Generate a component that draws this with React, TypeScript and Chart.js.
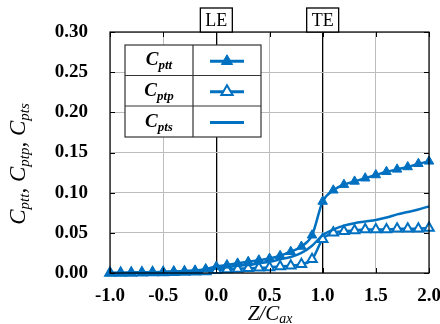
import React, { useEffect, useRef } from 'react';
import { Chart, registerables } from 'chart.js';

Chart.register(...registerables);

const xValues = [-1.0, -0.9, -0.8, -0.7, -0.6, -0.5, -0.4, -0.3, -0.2, -0.1, 0.0, 0.1, 0.2, 0.3, 0.4, 0.5, 0.6, 0.7, 0.8, 0.9, 1.0, 1.1, 1.2, 1.3, 1.4, 1.5, 1.6, 1.7, 1.8, 1.9, 2.0];
const cptt = [0.0, 0.0, 0.0005, 0.0008, 0.001, 0.0012, 0.0015, 0.002, 0.003, 0.005, 0.008, 0.010, 0.012, 0.014, 0.016, 0.018, 0.0215, 0.0265, 0.033, 0.047, 0.089, 0.103, 0.110, 0.114, 0.118, 0.122, 0.126, 0.129, 0.132, 0.136, 0.139];
const cptp = [0.0, 0.0, 0.0, 0.0003, 0.0005, 0.0007, 0.001, 0.0012, 0.0015, 0.002, 0.0035, 0.0045, 0.005, 0.006, 0.0065, 0.007, 0.008, 0.009, 0.011, 0.017, 0.042, 0.050, 0.052, 0.053, 0.054, 0.054, 0.054, 0.055, 0.055, 0.055, 0.056];
const cpts = [0.0, 0.0, 0.0005, 0.001, 0.001, 0.0015, 0.002, 0.0025, 0.003, 0.004, 0.006, 0.007, 0.009, 0.010, 0.012, 0.014, 0.017, 0.020, 0.025, 0.034, 0.047, 0.054, 0.059, 0.062, 0.064, 0.066, 0.069, 0.073, 0.076, 0.079, 0.083];
const xTicks = [-1.0, -0.5, 0.0, 0.5, 1.0, 1.5, 2.0];
const yTicks = [0.0, 0.05, 0.10, 0.15, 0.20, 0.25, 0.30];
const edgeLabels = ['LE', 'TE'];
const edgePositions = [0.0, 1.0];
const legendSubs = ['ptt', 'ptp', 'pts'];

const BLUE = '#0070C0';
const SERIF = '"Liberation Serif", "Times New Roman", serif';

type Part = { t: string; sub?: boolean };

function drawRich(ctx: CanvasRenderingContext2D, parts: Part[], x: number, y: number, mainFont: string, subFont: string, subShift: number, align: 'center' | 'left') {
  let total = 0;
  const widths = parts.map((p) => {
    ctx.font = p.sub ? subFont : mainFont;
    const w = ctx.measureText(p.t).width;
    total += w;
    return w;
  });
  let cx = align === 'center' ? x - total / 2 : x;
  parts.forEach((p, i) => {
    ctx.font = p.sub ? subFont : mainFont;
    ctx.fillText(p.t, cx, p.sub ? y + subShift : y);
    cx += widths[i];
  });
}

function triangle(ctx: CanvasRenderingContext2D, x: number, y: number, r: number, filled: boolean) {
  ctx.beginPath();
  for (let k = 0; k < 3; k++) {
    const a = (k * 2 * Math.PI) / 3;
    const px = x + Math.sin(a) * r;
    const py = y - Math.cos(a) * r;
    if (k === 0) ctx.moveTo(px, py); else ctx.lineTo(px, py);
  }
  ctx.closePath();
  if (filled) {
    ctx.fillStyle = BLUE;
    ctx.fill();
    ctx.strokeStyle = BLUE;
    ctx.lineWidth = 1;
    ctx.stroke();
  } else {
    ctx.fillStyle = '#fff';
    ctx.fill();
    ctx.strokeStyle = BLUE;
    ctx.lineWidth = 2;
    ctx.stroke();
  }
}

const overlay = {
  id: 'overlay',
  afterDraw(chart: any) {
    const { ctx, chartArea: a, scales } = chart;
    const xs = scales.x;
    const ys = scales.y;
    ctx.save();
    // frame
    ctx.strokeStyle = '#000';
    ctx.lineWidth = 1.2;
    ctx.strokeRect(a.left, a.top, a.right - a.left, a.bottom - a.top);
    // inward ticks
    ctx.lineWidth = 1;
    ctx.beginPath();
    xTicks.forEach((v) => {
      const px = Math.round(xs.getPixelForValue(v)) + 0.5;
      ctx.moveTo(px, a.bottom); ctx.lineTo(px, a.bottom - 5);
      ctx.moveTo(px, a.top); ctx.lineTo(px, a.top + 5);
    });
    yTicks.forEach((v) => {
      const py = Math.round(ys.getPixelForValue(v)) + 0.5;
      ctx.moveTo(a.left, py); ctx.lineTo(a.left + 5, py);
      ctx.moveTo(a.right, py); ctx.lineTo(a.right - 5, py);
    });
    ctx.stroke();

    // LE / TE boxes
    edgeLabels.forEach((lab, i) => {
      const px = xs.getPixelForValue(edgePositions[i]);
      ctx.font = `18px ${SERIF}`;
      const w = ctx.measureText(lab).width + 10;
      const h = 24;
      ctx.fillStyle = '#fff';
      ctx.fillRect(px - w / 2, a.top - h, w, h);
      ctx.strokeStyle = '#000';
      ctx.lineWidth = 1.3;
      ctx.strokeRect(px - w / 2, a.top - h, w, h);
      ctx.fillStyle = '#000';
      ctx.textAlign = 'center';
      ctx.textBaseline = 'alphabetic';
      ctx.fillText(lab, px, a.top - 6);
    });

    // legend table
    const L = 125, R = 261, T = 45, B = 137, C = 193;
    const rows = [T, 75.5, 106, B];
    ctx.fillStyle = '#fff';
    ctx.fillRect(L, T, R - L, B - T);
    ctx.strokeStyle = '#333';
    ctx.lineWidth = 1.2;
    ctx.strokeRect(L, T, R - L, B - T);
    ctx.beginPath();
    ctx.moveTo(C, T); ctx.lineTo(C, B);
    ctx.moveTo(L, rows[1]); ctx.lineTo(R, rows[1]);
    ctx.moveTo(L, rows[2]); ctx.lineTo(R, rows[2]);
    ctx.stroke();
    ctx.textAlign = 'left';
    ctx.textBaseline = 'alphabetic';
    legendSubs.forEach((s, i) => {
      const mid = (rows[i] + rows[i + 1]) / 2;
      ctx.fillStyle = '#000';
      drawRich(ctx, [{ t: 'C' }, { t: s, sub: true }], (L + C) / 2, mid + 5, `bold italic 19px ${SERIF}`, `bold italic 13px ${SERIF}`, 4, 'center');
      const cx = (C + R) / 2;
      ctx.strokeStyle = BLUE;
      ctx.lineWidth = 3.2;
      ctx.beginPath();
      ctx.moveTo(cx - 17, mid + 1); ctx.lineTo(cx + 17, mid + 1);
      ctx.stroke();
      if (i < 2) triangle(ctx, cx, mid + 1, 6.5, i === 0);
    });

    // y title
    ctx.fillStyle = '#000';
    ctx.save();
    ctx.translate(18, 164);
    ctx.rotate(-Math.PI / 2);
    ctx.textAlign = 'left';
    const yParts: Part[] = [];
    legendSubs.forEach((s, i) => {
      yParts.push({ t: 'C' }, { t: s, sub: true });
      if (i < 2) yParts.push({ t: ', ' });
    });
    drawRich(ctx, yParts, 0, 7, `italic 23px ${SERIF}`, `italic 15px ${SERIF}`, 4, 'center');
    ctx.restore();

    // x title
    ctx.textAlign = 'left';
    drawRich(ctx, [{ t: 'Z/C' }, { t: 'ax', sub: true }], 270, 320, `italic 21px ${SERIF}`, `italic 14px ${SERIF}`, 3, 'center');
    ctx.restore();
  },
};

export default function App() {
  const ref = useRef<HTMLCanvasElement>(null);
  useEffect(() => {
    if (!ref.current) return;
    const mk = (arr: number[]) => xValues.map((x, i) => ({ x, y: arr[i] }));
    const chart = new Chart(ref.current, {
      type: 'line',
      data: {
        datasets: [
          {
            label: 'Cpts',
            data: mk(cpts),
            borderColor: BLUE,
            backgroundColor: BLUE,
            borderWidth: 2.5,
            pointRadius: 0,
            cubicInterpolationMode: 'monotone',
            clip: false as any,
          },
          {
            label: 'Cptt',
            data: mk(cptt),
            borderColor: BLUE,
            backgroundColor: BLUE,
            borderWidth: 2.5,
            pointStyle: 'triangle',
            pointRadius: 5.5,
            pointBackgroundColor: BLUE,
            pointBorderColor: BLUE,
            pointBorderWidth: 1,
            cubicInterpolationMode: 'monotone',
            clip: false as any,
          },
          {
            label: 'Cptp',
            data: mk(cptp),
            borderColor: BLUE,
            backgroundColor: '#fff',
            borderWidth: 2.5,
            pointStyle: 'triangle',
            pointRadius: 5.5,
            pointBackgroundColor: '#fff',
            pointBorderColor: BLUE,
            pointBorderWidth: 2,
            cubicInterpolationMode: 'monotone',
            clip: false as any,
          },
        ],
      },
      options: {
        responsive: false,
        animation: false,
        devicePixelRatio: 1,
        layout: { padding: { left: 0, right: 11, top: 32, bottom: 0 } },
        plugins: { legend: { display: false }, tooltip: { enabled: false } },
        scales: {
          x: {
            type: 'linear',
            min: -1,
            max: 2,
            border: { display: false },
            grid: {
              drawTicks: false,
              color: (c: any) => (c.tick && (c.tick.value === 0 || c.tick.value === 1) ? '#000' : '#bdbdbd'),
              lineWidth: (c: any) => (c.tick && (c.tick.value === 0 || c.tick.value === 1) ? 1.3 : 1),
            },
            ticks: {
              stepSize: 0.5,
              padding: 12,
              color: '#000',
              font: { family: SERIF, size: 19, weight: 'bold' },
              callback: (v: any) => Number(v).toFixed(1),
            },
            afterFit: (s: any) => { s.height = 51; s.paddingLeft = 0; s.paddingRight = 0; },
          },
          y: {
            type: 'linear',
            min: 0,
            max: 0.3,
            border: { display: false },
            grid: { drawTicks: false, color: '#bdbdbd', lineWidth: 1 },
            ticks: {
              stepSize: 0.05,
              padding: 22,
              color: '#000',
              font: { family: SERIF, size: 19, weight: 'bold' },
              callback: (v: any) => Number(v).toFixed(2),
            },
            afterFit: (s: any) => { s.width = 110; s.paddingTop = 0; s.paddingBottom = 0; },
          },
        },
      },
      plugins: [overlay],
    } as any);
    return () => chart.destroy();
  }, []);
  return (
    <div style={{ position: 'fixed', left: 0, top: 0, width: 440, height: 324, background: '#fff' }}>
      <canvas ref={ref} width={440} height={324} style={{ width: 440, height: 324 }} />
    </div>
  );
}
